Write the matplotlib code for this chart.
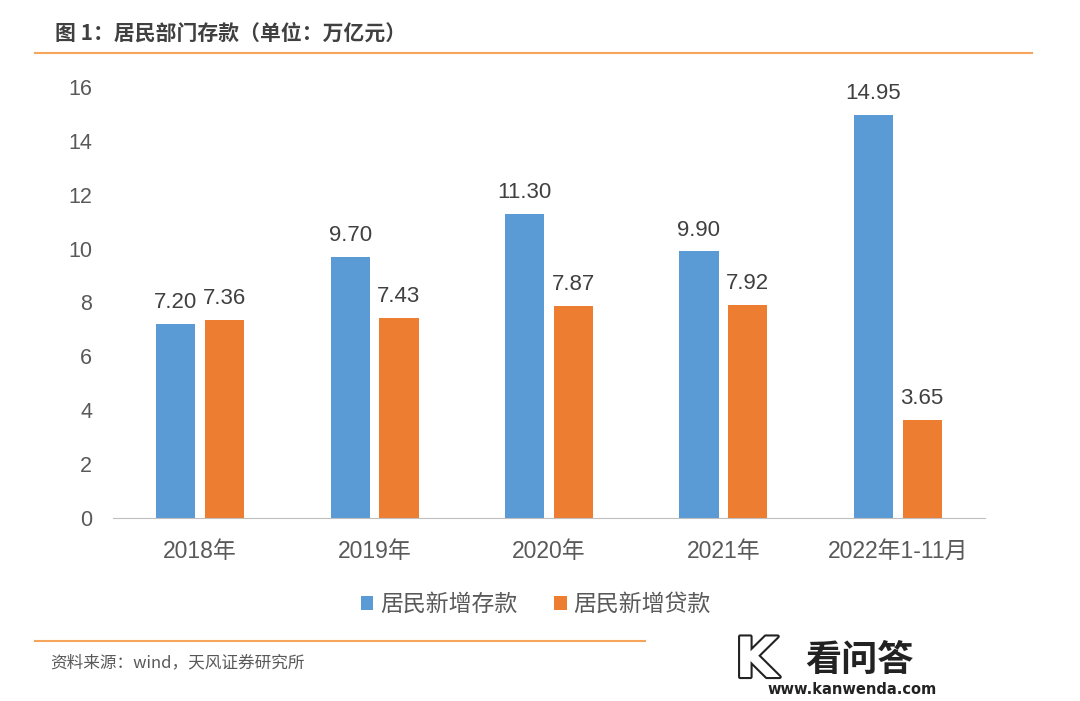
import numpy as np
import matplotlib.pyplot as plt
import matplotlib.patheffects as pe

plt.rcParams['font.family'] = ['Liberation Sans', 'Noto Sans CJK SC', 'DejaVu Sans']

# Data
categories = ['2018年', '2019年', '2020年', '2021年', '2022年1-11月']
deposits = [7.20, 9.70, 11.30, 9.90, 14.95]   # 居民新增存款
loans = [7.36, 7.43, 7.87, 7.92, 3.65]        # 居民新增贷款
series_names = ['居民新增存款', '居民新增贷款']
yticks = [0, 2, 4, 6, 8, 10, 12, 14, 16]

BLUE = '#5B9BD5'
ORANGE = '#ED7D31'
TXT = '#595959'
LINE = '#F7A45C'
CJK = ['Noto Sans CJK SC', 'DejaVu Sans']

fig = plt.figure(figsize=(10.8, 7.01), dpi=100)
ax = fig.add_axes([0.1046, 0.261, 0.8074, 0.615])

x = np.arange(len(categories))
w = 0.225
off = 0.14
b1 = ax.bar(x - off, deposits, w, color=BLUE, label=series_names[0])
b2 = ax.bar(x + off, loans, w, color=ORANGE, label=series_names[1])

for bars, vals in ((b1, deposits), (b2, loans)):
    for r, v in zip(bars, vals):
        ax.text(r.get_x() + r.get_width() / 2, v + 0.4, '%.2f' % v,
                ha='center', va='bottom', fontsize=16, color='#404040')

ax.set_xlim(-0.5, len(categories) - 0.5)
ax.set_ylim(0, 16)
ax.set_yticks(yticks)
ax.set_xticks(x)
ax.set_xticklabels(categories)
ax.tick_params(axis='both', length=0, colors=TXT)
ax.tick_params(axis='x', pad=16, labelsize=16.5)
ax.tick_params(axis='y', pad=15, labelsize=15.5)
for s in ('top', 'right', 'left'):
    ax.spines[s].set_visible(False)
ax.spines['bottom'].set_color('#BFBFBF')

leg = ax.legend(loc='center', bbox_to_anchor=(0.485, -0.2), ncol=2, frameon=False,
                prop={'family': CJK, 'size': 16.5}, handlelength=0.55, handleheight=0.55,
                handletextpad=0.3, columnspacing=1.6, labelcolor=TXT)

# Title and rules
fig.text(55 / 1080, 1 - 33 / 701, '图 1：居民部门存款（单位：万亿元）', fontsize=15,
         fontweight='bold', family=CJK, color='#404040', va='center', ha='left')
fig.add_artist(plt.Line2D([35 / 1080, 1032 / 1080], [1 - 53 / 701] * 2, color=LINE, lw=1.5))
fig.add_artist(plt.Line2D([35 / 1080, 645 / 1080], [1 - 641 / 701] * 2, color=LINE, lw=1.5))
fig.text(50 / 1080, 1 - 663 / 701, '资料来源：wind，天风证券研究所', fontsize=12,
         family=CJK, color=TXT, va='center', ha='left')

# Watermark
fig.text(735 / 1080, 1 - 662 / 701, 'K', fontsize=40, fontweight='bold', color='white',
         family='DejaVu Sans', va='center', ha='left',
         path_effects=[pe.withStroke(linewidth=3, foreground='#222222')])
fig.text(805 / 1080, 1 - 660 / 701, '看问答', fontsize=26, fontweight='bold', color='#222222',
         family=CJK, va='center', ha='left')
fig.text(767 / 1080, 1 - 690 / 701, 'www.kanwenda.com', fontsize=10.5, fontweight='bold',
         family='DejaVu Sans', color='#222222', va='center', ha='left')

fig.savefig('out.png', dpi=100)
